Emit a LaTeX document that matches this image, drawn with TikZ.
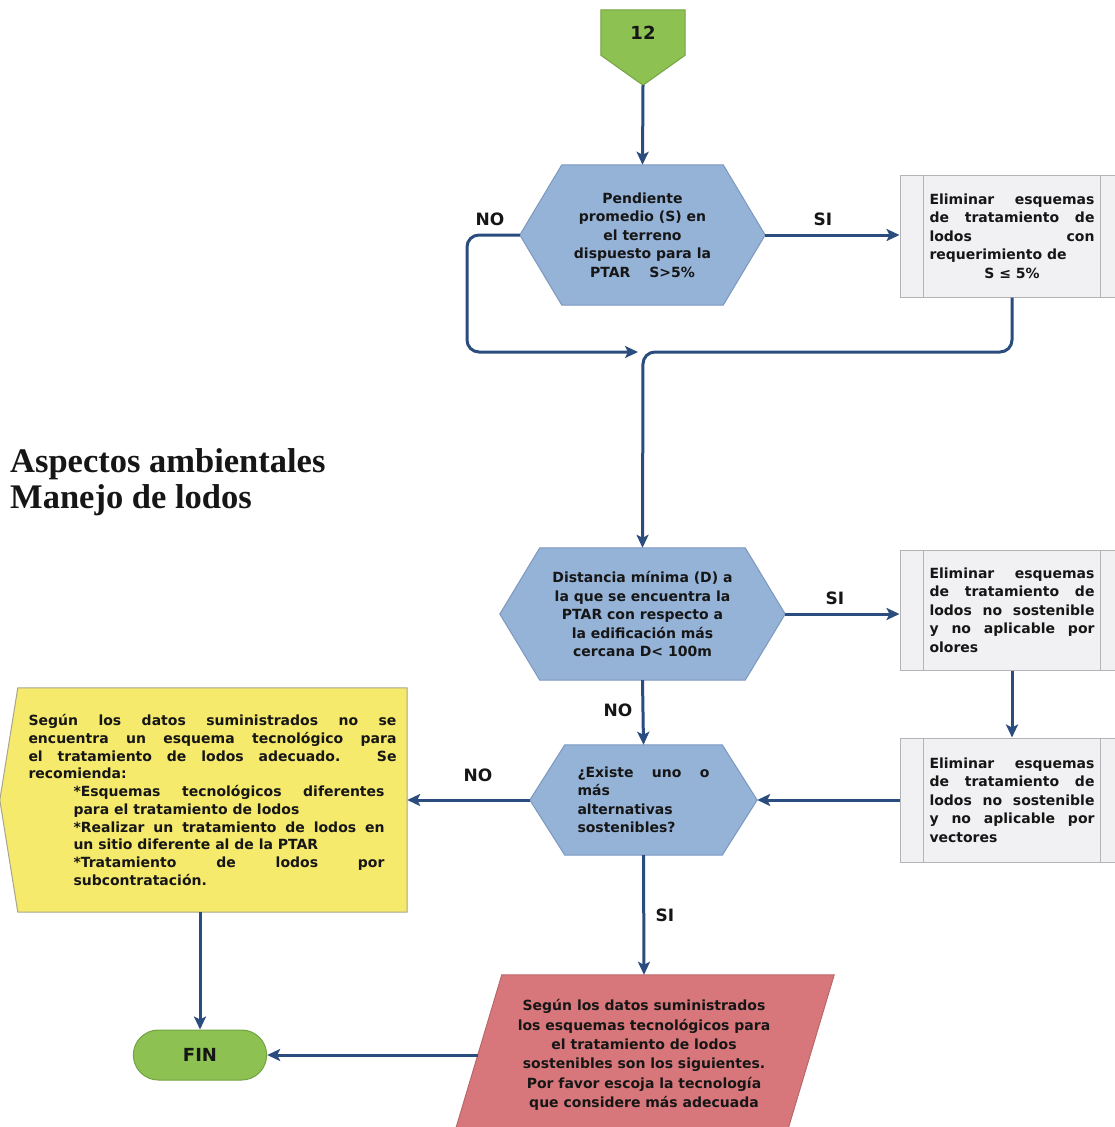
\documentclass[tikz,border=0pt]{standalone}
\usepackage{fontspec}
\setmainfont{DejaVu Sans}
\newfontfamily\titlefont{Liberation Serif}
\usetikzlibrary{arrows.meta,calc,backgrounds,shapes.misc}
\setlength{\parindent}{0pt}

\definecolor{flowblue}{HTML}{2B4C7E}
\definecolor{hexfill}{HTML}{95B2D7}
\definecolor{hexline}{HTML}{7D98BF}
\definecolor{greenfill}{HTML}{8DC152}
\definecolor{greenline}{HTML}{74A344}
\definecolor{procfill}{HTML}{F1F1F3}
\definecolor{procline}{HTML}{B4B4B8}
\definecolor{notefill}{HTML}{F6EA6C}
\definecolor{noteline}{HTML}{A9A58C}
\definecolor{redfill}{HTML}{D8777B}
\definecolor{redline}{HTML}{B9676B}
\definecolor{ink}{HTML}{161616}

% hexagonal decision outline around a rectangular node: #1 node, #2 tip depth
\newcommand\drawhexagon[2]{%
  \path[draw=hexline, fill=hexfill, line width=1pt]
    (#1.west) -- ($(#1.north west)+(#2,0)$) -- ($(#1.north east)+(-#2,0)$)
    -- (#1.east) -- ($(#1.south east)+(-#2,0)$) -- ($(#1.south west)+(#2,0)$) -- cycle;}

\begin{document}
\begin{tikzpicture}[x=1pt,y=-1pt,
  txt/.style={font=\bfseries\fontsize{14}{18.5}\selectfont, text=ink, inner sep=0pt},
  flow/.style={draw=flowblue, line width=3pt, -{Stealth[length=13pt,width=12pt,inset=3pt]}},
  lbl/.style={font=\bfseries\fontsize{17}{20}\selectfont, text=ink, inner sep=0pt},
  decision/.style={txt, align=center},
  procbox/.style={txt, draw=procline, fill=procfill, line width=1pt,
    minimum width=224pt, text width=165pt, align=justify},
  titletext/.style={font=\titlefont\bfseries\fontsize{34.5}{36}\selectfont, text=ink, inner sep=0pt, anchor=base west}
]
\useasboundingbox (0,0) rectangle (1115,1127);

% title
\node[titletext] (title1) at (10,472) {Aspectos ambientales};
\node[titletext] (title2) at (10,508) {Manejo de lodos};

% off-page connector
\node[txt, font=\bfseries\fontsize{18}{20}\selectfont, minimum width=84pt, minimum height=45pt] (s12) at (643,32.5) {\raisebox{-5pt}{12}};
\coordinate (s12tip) at ($(s12.south)+(0,30)$);

% decisions
\node[decision, minimum width=245pt, minimum height=140pt] (d1) at (642.5,235)
  {Pendiente\\promedio (S) en\\el terreno\\dispuesto para la\\PTAR\quad\ S>5\%};
\node[decision, minimum width=285pt, minimum height=132pt] (d2) at (642.5,614)
  {Distancia mínima (D) a\\la que se encuentra la\\PTAR con respecto a\\la edificación más\\cercana D< 100m};
\node[txt, minimum width=227pt, minimum height=110pt, text width=132pt, align=justify] (d3) at (643.5,800)
  {¿Existe uno o\linebreak más\par alternativas\par sostenibles?};

% processes
\node[procbox, minimum height=122pt] (p1) at (1012,236)
  {Eliminar esquemas\linebreak de tratamiento de\linebreak lodos con\linebreak requerimiento de\par
   \centering S ≤ 5\%\par};
\node[procbox, minimum height=120pt] (p2) at (1012,610)
  {Eliminar esquemas\linebreak de tratamiento de\linebreak lodos no sostenible\linebreak y no aplicable por\linebreak olores};
\node[procbox, minimum height=124pt] (p3) at (1012,800)
  {Eliminar esquemas\linebreak de tratamiento de\linebreak lodos no sostenible\linebreak y no aplicable por\linebreak vectores};
\foreach \p in {p1,p2,p3}{
  \draw[procline, line width=1pt] ($(\p.north west)+(24,0)$) -- ($(\p.south west)+(24,0)$);
  \draw[procline, line width=1pt] ($(\p.north east)+(-24,0)$) -- ($(\p.south east)+(-24,0)$);
}

% recommendation note
\node[txt, font=\bfseries\fontsize{14}{17.7}\selectfont, minimum width=389pt, minimum height=224pt, text width=368pt, align=justify] (y1) at (212.5,800)
  {Según los datos suministrados no se\linebreak encuentra un esquema tecnológico para\linebreak el tratamiento de lodos adecuado. Se\linebreak recomienda:\par
   {\leftskip=45pt \rightskip=12pt
   *Esquemas tecnológicos diferentes\linebreak para el tratamiento de lodos\par
   *Realizar un tratamiento de lodos en\linebreak un sitio diferente al de la PTAR\par
   *Tratamiento de lodos por\linebreak subcontratación.\par}};

% result
\node[txt, font=\bfseries\fontsize{14}{19.3}\selectfont, align=center, minimum width=332pt, minimum height=160pt] (r1) at (644,1055)
  {Según los datos suministrados\\los esquemas tecnológicos para\\el tratamiento de lodos\\sostenibles son los siguientes.\\Por favor escoja la tecnología\\que considere más adecuada};

% end
\node[rounded rectangle, draw=greenline, fill=greenfill, line width=1pt, minimum width=140pt, minimum height=50pt,
  font=\bfseries\fontsize{18}{20}\selectfont, text=ink] (fin) at (200,1055) {FIN};

% shapes behind the text
\begin{scope}[on background layer]
  \fill[white] (0,0) rectangle (1115,1127);
  \path[draw=greenline, fill=greenfill, line width=1pt]
    (s12.north west) -- (s12.north east) -- (s12.south east) -- (s12tip) -- (s12.south west) -- cycle;
  \drawhexagon{d1}{42}
  \drawhexagon{d2}{40}
  \drawhexagon{d3}{35}
  \path[draw=noteline, fill=notefill, line width=1pt]
    (y1.north west) -- (y1.north east) -- (y1.south east) -- (y1.south west) -- ($(y1.west)+(-18,0)$) -- cycle;
  \path[draw=redline, fill=redfill, line width=1pt]
    ($(r1.north west)+(24,0)$) -- ($(r1.north east)+(24,0)$) -- ($(r1.south east)+(-24,0)$) -- ($(r1.south west)+(-24,0)$) -- cycle;
\end{scope}

% connectors
\coordinate (join) at (643,352);
\draw[flow] (s12tip) -- (d1.north);
\draw[flow] (d1.east) -- (d1.east -| p1.west);
\draw[flow, rounded corners=12pt] (d1.west) -- (467,235) -- (467,352) -- ($(join)+(-5,0)$);
\draw[flow, rounded corners=12pt] (p1.south) |- (join) -- (d2.north);
\draw[flow] (d2.east) -- (d2.east -| p2.west);
\draw[flow] (p2.south) -- (p3.north);
\draw[flow] (p3.west) -- (p3.west -| d3.east);
\draw[flow] (d2.south) -- (d3.north);
\draw[flow] (d3.west) -- (d3.west -| y1.east);
\draw[flow] (d3.south) -- (r1.north);
\draw[flow] (fin.north |- y1.south) -- (fin.north);
\draw[flow] (r1.west) -- (r1.west -| fin.east);

% branch labels
\node[lbl] (no1) at (490,219) {NO};
\node[lbl] (si1) at (823,219) {SI};
\node[lbl] (si2) at (835,598) {SI};
\node[lbl] (no2) at (618,710) {NO};
\node[lbl] (no3) at (478,775) {NO};
\node[lbl] (si3) at (665,915) {SI};
\end{tikzpicture}
\end{document}
